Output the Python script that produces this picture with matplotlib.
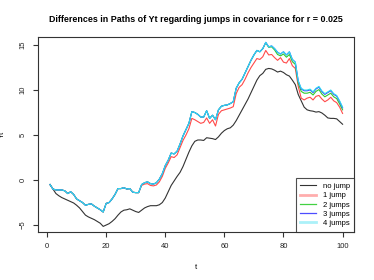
import matplotlib
matplotlib.use("Agg")
import matplotlib.pyplot as plt

plt.rcParams["font.family"] = ["Liberation Sans", "DejaVu Sans"]

t = list(range(1, 101))

no_jump = [
    -0.5, -1.0, -1.5, -1.75, -1.95, -2.1, -2.25, -2.4, -2.55, -2.8,
    -3.1, -3.5, -3.9, -4.1, -4.25, -4.4, -4.6, -4.8, -5.15, -5.0,
    -4.85, -4.6, -4.3, -3.9, -3.55, -3.35, -3.3, -3.2, -3.35, -3.5,
    -3.6, -3.35, -3.1, -2.95, -2.85, -2.85, -2.85, -2.75, -2.5, -2.0,
    -1.3, -0.6, -0.1, 0.4, 0.85, 1.5, 2.3, 3.1, 3.8, 4.3,
    4.45, 4.45, 4.4, 4.7, 4.65, 4.6, 4.5, 4.8, 5.2, 5.5,
    5.7, 5.8, 6.1, 6.6, 7.2, 7.8, 8.4, 9.0, 9.7, 10.4,
    11.1, 11.6, 11.85, 12.3, 12.4, 12.35, 12.2, 12.0, 12.1, 11.95,
    11.7, 11.55, 11.1, 10.6, 9.5, 8.8, 8.1, 7.8, 7.7, 7.65,
    7.55, 7.6, 7.45, 7.2, 6.9, 6.85, 6.85, 6.8, 6.5, 6.2,
]

jump1 = [
    -0.5, -1.0, -1.1, -1.1, -1.1, -1.2, -1.5, -1.3, -1.6, -2.1,
    -2.3, -2.5, -2.8, -2.7, -2.65, -2.9, -3.1, -3.3, -3.55, -2.6,
    -2.5, -2.1, -1.6, -0.95, -0.95, -0.85, -1.0, -0.95, -1.35, -1.4,
    -1.4, -0.6, -0.45, -0.4, -0.6, -0.65, -0.55, -0.2, 0.4, 1.3,
    1.9, 2.6, 2.5, 2.8, 3.6, 4.4, 5.0, 5.7, 6.85, 6.7,
    6.5, 6.3, 6.4, 6.9, 6.3, 6.7, 6.0, 7.3, 7.7, 7.8,
    7.9, 8.0, 8.15, 9.6, 10.3, 10.6, 11.2, 11.9, 12.5, 13.0,
    13.5, 13.4, 13.7, 14.4, 13.9, 13.95, 13.6, 13.3, 13.6, 13.1,
    13.0, 13.5, 12.7, 12.4, 10.4, 9.1, 8.9, 9.1, 9.2, 8.9,
    9.3, 9.4, 9.0, 8.7, 8.9, 9.2, 8.8, 8.6, 8.1, 7.4,
]

jump2 = [
    -0.5, -1.0, -1.1, -1.1, -1.1, -1.2, -1.5, -1.3, -1.6, -2.1,
    -2.3, -2.5, -2.8, -2.7, -2.65, -2.9, -3.1, -3.3, -3.55, -2.6,
    -2.5, -2.1, -1.6, -0.95, -0.95, -0.85, -1.0, -0.95, -1.35, -1.4,
    -1.4, -0.5, -0.3, -0.2, -0.4, -0.45, -0.3, 0.1, 0.7, 1.6,
    2.2, 3.0, 2.9, 3.2, 4.0, 4.9, 5.6, 6.3, 7.6, 7.5,
    7.3, 7.0, 7.0, 7.7, 6.85, 7.2, 6.7, 7.8, 8.2, 8.3,
    8.35, 8.5, 8.7, 10.2, 10.8, 11.2, 11.9, 12.6, 13.3, 13.9,
    14.4, 14.25, 14.6, 15.25, 14.75, 14.8, 14.45, 13.95, 13.8, 14.0,
    13.65, 13.95, 13.15, 12.85, 10.75, 9.85, 9.65, 9.65, 9.75, 9.45,
    9.85, 10.05, 9.55, 9.25, 9.45, 9.65, 9.25, 9.05, 8.45, 7.8,
]

jump3 = [
    -0.5, -1.0, -1.1, -1.1, -1.1, -1.2, -1.5, -1.3, -1.6, -2.1,
    -2.3, -2.5, -2.8, -2.7, -2.65, -2.9, -3.1, -3.3, -3.55, -2.6,
    -2.5, -2.1, -1.6, -0.95, -0.95, -0.85, -1.0, -0.95, -1.35, -1.4,
    -1.4, -0.5, -0.3, -0.2, -0.4, -0.45, -0.3, 0.1, 0.7, 1.6,
    2.2, 3.0, 2.9, 3.2, 4.0, 4.9, 5.6, 6.3, 7.6, 7.5,
    7.3, 7.0, 7.0, 7.7, 6.85, 7.2, 6.7, 7.8, 8.2, 8.3,
    8.35, 8.5, 8.7, 10.2, 10.8, 11.2, 11.9, 12.6, 13.3, 13.9,
    14.4, 14.25, 14.6, 15.3, 14.8, 14.9, 14.6, 14.2, 14.0, 14.25,
    13.9, 14.25, 13.4, 13.1, 11.0, 10.12, 9.92, 9.92, 10.02, 9.72,
    10.12, 10.32, 9.82, 9.52, 9.72, 9.92, 9.52, 9.32, 8.72, 8.02,
]

jump4 = [
    -0.5, -1.0, -1.1, -1.1, -1.1, -1.2, -1.5, -1.3, -1.6, -2.1,
    -2.3, -2.5, -2.8, -2.7, -2.65, -2.9, -3.1, -3.3, -3.55, -2.6,
    -2.5, -2.1, -1.6, -0.95, -0.95, -0.85, -1.0, -0.95, -1.35, -1.4,
    -1.4, -0.5, -0.3, -0.2, -0.4, -0.45, -0.3, 0.1, 0.7, 1.6,
    2.2, 3.0, 2.9, 3.2, 4.0, 4.9, 5.6, 6.3, 7.6, 7.5,
    7.3, 7.0, 7.0, 7.7, 6.85, 7.2, 6.7, 7.8, 8.2, 8.3,
    8.35, 8.5, 8.7, 10.2, 10.8, 11.2, 11.9, 12.6, 13.3, 13.9,
    14.4, 14.25, 14.6, 15.3, 14.8, 14.9, 14.6, 14.2, 14.0, 14.25,
    13.9, 14.25, 13.4, 13.1, 11.0, 10.2, 10.0, 10.0, 10.1, 9.8,
    10.2, 10.4, 9.9, 9.6, 9.8, 10.0, 9.6, 9.4, 8.8, 8.1,
]

labels = ["no jump", "1 jump", "2 jumps", "3 jumps", "4 jumps"]
series = [no_jump, jump1, jump2, jump3, jump4]
colors = ["#333333", "#ff4a4a", "#2ecc2e", "#3a3aff", "#2edcf0"]

fig = plt.figure(figsize=(3.74, 2.8), dpi=100)
ax = fig.add_axes([0.1024, 0.1725, 0.8449, 0.6943])

for y, c, lab in zip(series, colors, labels):
    ax.plot(t, y, color=c, lw=0.8, label=lab)

ax.set_xlim(-2.96, 103.96)
ax.set_ylim(-5.74, 15.86)
ax.set_xticks([0, 20, 40, 60, 80, 100])
ax.set_yticks([-5, 0, 5, 10, 15])

for s in ax.spines.values():
    s.set_linewidth(0.8)
    s.set_color("#333333")
ax.tick_params(axis="both", length=3.6, width=0.8, color="#333333",
               labelsize=5.5, labelcolor="#222222")
ax.tick_params(axis="x", pad=4.5)
ax.tick_params(axis="y", pad=5)
for lbl in ax.get_yticklabels():
    lbl.set_rotation(90)
    lbl.set_va("center")

ax.set_xlabel("t", fontsize=5.5, labelpad=10)
ax.set_ylabel("Yt", fontsize=5.5, labelpad=10)
ax.set_title("Differences in Paths of Yt regarding jumps in covariance for r = 0.025",
             fontsize=6.4, fontweight="bold", pad=11)

# legend keys are drawn lighter/thicker, as in the original
leg_handles = []
leg_alpha = [1.0, 0.45, 0.9, 0.9, 0.4]
leg_lw = [0.8, 2.0, 0.9, 0.9, 2.0]
for c, lab, a, w in zip(colors, labels, leg_alpha, leg_lw):
    h, = ax.plot([], [], color=c, lw=w, alpha=a, label=lab)
    leg_handles.append(h)
leg = ax.legend(handles=leg_handles, loc="lower right", fontsize=5.5,
                frameon=True, fancybox=False, borderpad=0.6,
                handlelength=2.0, handletextpad=0.9, labelspacing=0.25,
                borderaxespad=0)
leg.get_frame().set_edgecolor("#222222")
leg.get_frame().set_linewidth(0.8)

fig.savefig("out.png", dpi=100)
